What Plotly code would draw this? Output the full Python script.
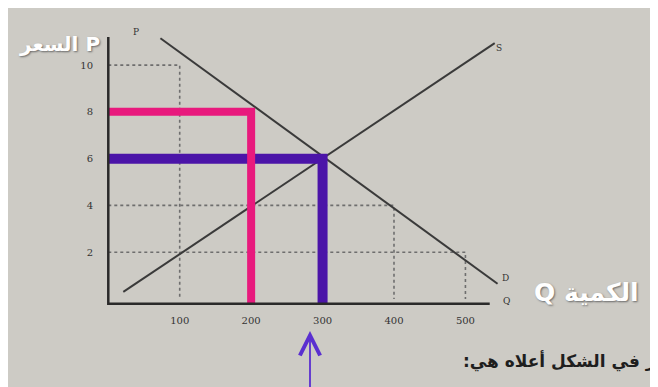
import plotly.graph_objects as go

# ---- data ----
price_ticks = [2, 4, 6, 8, 10]
qty_ticks = [100, 200, 300, 400, 500]
qty_tick_labels = ["100", "200", "300", "400", "500"]
price_tick_labels = ["2", "4", "6", "8", "10"]

# points on demand curve used for dotted guide lines
guide_q = [100, 200, 300, 400, 500]
guide_p = [10, 8, 6, 4, 2]

demand_q = [73, 545]
demand_p = [11.15, 0.65]
supply_q = [21, 541]
supply_p = [0.3, 10.94]

pink_q, pink_p = 200, 8      # highlighted point (pink)
eq_q, eq_p = 300, 6          # equilibrium (purple)

axis_top_p = 11.2
axis_end_q = 534

# ---- layout geometry ----
W, H = 658, 387
X_RANGE = [-20, 680]
Y_RANGE = [-0.6, 11.8]
L, R, T, B = 86, 72, 15, 82
pw = W - L - R
ph = H - T - B


def px(xp):
    return (xp - L) / pw


def py(yp):
    return (H - B - yp) / ph


BG = "#cdcbc5"
INK = "#333333"

fig = go.Figure()

# dotted guide lines
for q, p in zip(guide_q, guide_p):
    fig.add_trace(go.Scatter(
        x=[0, q, q], y=[p, p, 0], mode="lines",
        line=dict(color="#6e6e6e", width=1.6, dash="dot"),
        hoverinfo="skip", showlegend=False))

# demand & supply
fig.add_trace(go.Scatter(x=demand_q, y=demand_p, mode="lines",
                         line=dict(color="#3a3a3a", width=2), showlegend=False))
fig.add_trace(go.Scatter(x=supply_q, y=supply_p, mode="lines",
                         line=dict(color="#3a3a3a", width=2), showlegend=False))

# purple equilibrium lines
fig.add_trace(go.Scatter(x=[0, eq_q, eq_q], y=[eq_p, eq_p, -0.25], mode="lines",
                         line=dict(color="#4b14a8", width=10), showlegend=False))
# pink lines
fig.add_trace(go.Scatter(x=[0, pink_q, pink_q], y=[pink_p, pink_p, -0.25], mode="lines",
                         line=dict(color="#e8197d", width=8), showlegend=False))

# axes lines
fig.add_trace(go.Scatter(x=[0, 0, axis_end_q], y=[axis_top_p, -0.2, -0.2], mode="lines",
                         line=dict(color="#2a2a2a", width=2.5), showlegend=False))

fig.update_xaxes(range=X_RANGE, showgrid=False, zeroline=False, showline=False,
                 tickvals=qty_ticks, ticktext=qty_tick_labels, ticks="",
                 ticklabelstandoff=0,
                 tickfont=dict(family="DejaVu Serif", size=10, color=INK))
fig.update_yaxes(range=Y_RANGE, showgrid=False, zeroline=False, showline=False,
                 tickvals=price_ticks, ticktext=price_tick_labels, ticks="",
                 ticklabelstandoff=0,
                 tickfont=dict(family="DejaVu Serif", size=10, color=INK))

small = dict(family="DejaVu Serif", size=9, color=INK)
white_shadow = "1px 1px 2px #6a6a6a"

annotations = [
    dict(text="S", x=px(496), y=py(33), font=small),
    dict(text="D", x=px(503), y=py(277), font=small),
    dict(text="P", x=px(123), y=py(17), font=small),
    dict(text="Q", x=px(504), y=py(300), font=small),
    dict(text="<b>السعر P</b>", x=px(51), y=py(22), xanchor="center",
         font=dict(family="DejaVu Sans", size=20, color="#ffffff", shadow=white_shadow)),
    dict(text="<b>Q الكمية</b>", x=px(524), y=py(301), xanchor="left",
         font=dict(family="DejaVu Sans", size=25, color="#ffffff", shadow=white_shadow)),
    dict(text="<b>ر في الشكل أعلاه هي:\u200f</b>", x=px(650), y=py(366),
         xanchor="right", font=dict(family="DejaVu Sans", size=17, color="#1e1e1e")),
]
for a in annotations:
    a.setdefault("xref", "paper")
    a.setdefault("yref", "paper")
    a.setdefault("showarrow", False)
    fig.add_annotation(**a)

# purple hand-drawn arrow pointing at 300
fig.add_annotation(x=px(302), y=py(323), xref="paper", yref="paper", ax=0, ay=62,
                   showarrow=True, arrowhead=5, arrowsize=2.2, arrowwidth=1.8,
                   arrowcolor="#5a2fd0", text="")

fig.update_layout(width=W, height=H, margin=dict(l=L, r=R, t=T, b=B),
                  paper_bgcolor=BG, plot_bgcolor=BG, showlegend=False)

fig.write_html("out.html")
